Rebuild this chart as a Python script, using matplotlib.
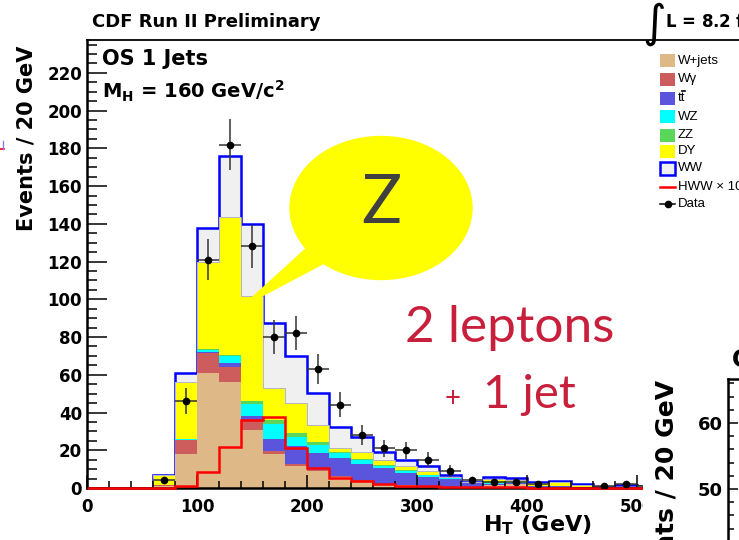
import numpy as np
import matplotlib
matplotlib.use('Agg')
from matplotlib import pyplot as plt
from matplotlib.patches import Rectangle, Ellipse, Polygon
from matplotlib.lines import Line2D
from matplotlib.ticker import MultipleLocator

# H_T en bins de 20 GeV (0-600)
bordes = np.arange(0, 620, 20)
wjets = [0, 0, 0, 1.0, 17.8, 61.1, 56.2, 30.7, 17.8, 11.7, 8.8, 6.0, 3.7, 2.1, 1.5, 0.5, 0.3, 0.3, 1.5, 2.0, 0.3, 0.3, 0.1, 0, 0, 0, 0, 0, 0, 0]
wgamma = [0, 0, 0, 0.6, 7.6, 10.3, 8.1, 5.3, 1.8, 0.8, 0.5, 0.3, 0.3, 0.2, 0.1, 0.1, 0, 0, 0, 0, 0, 0, 0, 0, 0, 0, 0, 0, 0, 0]
ttbar = [0, 0, 0, 0, 0.2, 0.6, 1.8, 2.2, 6.5, 9.8, 9.4, 9.4, 8.5, 8.1, 6.5, 5.4, 4.3, 2.2, 0.5, 0.5, 0.6, 0.5, 0.5, 0.3, 0.8, 0.6, 0.4, 0.3, 0.2, 0.2]
wz = [0, 0, 0, 0, 0.2, 1.1, 3.9, 6.3, 7.8, 4.9, 4.3, 2.8, 2.3, 1.3, 1.1, 0.9, 0.7, 0.3, 0.9, 0.5, 0.2, 0.2, 0.1, 0, 0, 0, 0, 0, 0, 0]
zz = [0, 0, 0, 0, 0.2, 0.3, 0.7, 1.6, 2.1, 1.8, 1.5, 0.8, 0.5, 0.3, 0.2, 0.1, 0.1, 0.1, 0.1, 0.1, 0.1, 0.1, 0, 0, 0, 0, 0, 0, 0, 0]
dy = [0, 0, 0, 5.4, 30.3, 46.5, 73.1, 55.6, 16.8, 15.9, 8.9, 2.1, 4.0, 2.8, 2.3, 2.2, 0.6, 0.1, 1.8, 1.1, 1.3, 2.3, 0.8, 0.1, 0.1, 0.3, 0.2, 0.1, 0.1, 0]
ww = [0, 0, 0, 0, 4.8, 18.1, 32.2, 38.3, 34.8, 25.1, 16.8, 11.1, 7.6, 4.5, 3.1, 2.5, 0.9, 0.4, 0.8, 0.9, 0.5, 0.3, 0.4, 0.3, 0.9, 0.4, 0.3, 0.2, 0.2, 0.1]
hww10 = [0, 0, 0, 0, 1.2, 8.7, 21.9, 36.0, 37.8, 21.0, 10.8, 5.1, 3.5, 2.1, 1.1, 1.0, 0.6, 0.4, 0.3, 0.3, 0.2, 0.2, 0.2, 0.1, 0.1, 0.1, 0.1, 0.1, 0, 0]
datos = [0, 0, 0, 4, 46, 121, 182, 128, 80, 82, 63, 44, 28, 21, 20, 15, 9, 4, 3, 3, 2, 0, 0, 1, 2, 1, 0, 0, 0, 0]

nombres = ['W+jets', 'W\u03b3', 'tt', 'WZ', 'ZZ', 'DY', 'WW']
colores = ['#deb887', '#cd5c5c', '#5b55dd', '#00ffff', '#5ad65a', '#ffff00', '#f0f0f0']

W, H = 739, 540
plt.rcParams['font.family'] = 'DejaVu Sans'
plt.rcParams['font.weight'] = 'bold'

def px(x, y):
    return (x / W, 1 - y / H)

fig = plt.figure(figsize=(W / 100, H / 100), dpi=100)
ax = fig.add_axes([87 / W, 52 / H, 680 / W, 448 / H])

# pila acumulada, se dibuja de arriba hacia abajo
capas = [wjets, wgamma, ttbar, wz, zz, dy, ww]
acum = np.cumsum(np.array(capas), axis=0)
for i in range(len(capas) - 1, -1, -1):
    ax.stairs(acum[i], bordes, fill=True, color=colores[i], lw=0)
    if i == len(capas) - 1:
        ax.stairs(acum[i], bordes, color='#0000ff', lw=1.8)
    if i == 5:
        # contorno fino del DY
        ax.stairs(acum[i], bordes, color='#a8a8e8', lw=0.6)

ax.stairs(hww10, bordes, color='#ff0000', lw=1.8, baseline=None, zorder=3, clip_on=False)

d = np.array(datos, dtype=float)
centros = (bordes[:-1] + bordes[1:]) / 2
m = d > 0
ax.errorbar(centros[m], d[m], yerr=np.sqrt(d[m]), xerr=10, fmt='o', color='black',
            ecolor='#333333', elinewidth=1.1, markersize=4.5, capsize=0, zorder=4)

ax.set_xlim(0, 680 / 1.1)
ax.set_ylim(0, 448 / 1.887)
ax.spines['right'].set_visible(False)
ax.spines['top'].set_linewidth(1.3)
ax.spines['left'].set_linewidth(1.8)
ax.spines['bottom'].set_linewidth(1.8)
ax.set_xticks(range(0, 600, 100))
ax.xaxis.set_minor_locator(MultipleLocator(20))
ax.set_yticks(range(0, 240, 20))
ax.yaxis.set_minor_locator(MultipleLocator(5))
ax.tick_params(axis='x', which='major', direction='in', length=9.4, width=1.1, pad=7, labelsize=12)
ax.tick_params(axis='x', which='minor', direction='in', length=5, width=1.1)
ax.tick_params(axis='y', which='major', direction='in', length=14.4, width=1.1, pad=3.6, labelsize=12)
ax.tick_params(axis='y', which='minor', direction='in', length=7.2, width=1.1)

# textos
fig.text(*px(92, 27), 'CDF Run II Preliminary', fontsize=13, va='baseline')
fig.text(*px(642, 37), r'$\int$', fontsize=23, va='baseline')
fig.text(*px(665, 28), r'L = 8.2 fb$^{\mathbf{-1}}$', fontsize=12, va='baseline')
fig.text(*px(27, 138), 'Events / 20 GeV', fontsize=15, rotation=90, ha='center', va='center')
fig.text(*px(592, 531), r'$\mathbf{H_{T}}$ (GeV)', fontsize=16, ha='right', va='baseline')
fig.text(*px(102, 65), 'OS 1 Jets', fontsize=15, va='baseline')
fig.text(*px(102, 99), r'$\mathbf{M_{H}}$ = 160 GeV/c$^{\mathbf{2}}$', fontsize=14, va='baseline')

# leyenda
ly = [60.7, 79.3, 98.3, 116.7, 135, 151.5, 168.3, 186.7, 204]
for i in range(7):
    ec = '#0000ff' if i == 6 else colores[i]
    lw = 1.8 if i == 6 else 0
    fig.add_artist(Rectangle(px(660, ly[i] + 6.5), 15 / W, 13 / H, transform=fig.transFigure,
                             facecolor=colores[i], edgecolor=ec, lw=lw))
    fig.text(*px(678, ly[i]), nombres[i], fontsize=9.5, fontweight='normal',
             family='Liberation Sans', va='center')
# barra de la t
fig.add_artist(Line2D([682 / W, 685 / W], [1 - (ly[2] - 7.5) / H] * 2, color='black', lw=1.2,
                      transform=fig.transFigure))
fig.add_artist(Line2D([660 / W, 675 / W], [1 - ly[7] / H] * 2, color='#ff0000', lw=1.8,
                      transform=fig.transFigure))
fig.text(*px(678, ly[7]), 'HWW \u00d7 10', fontsize=9.5, fontweight='normal',
         family='Liberation Sans', va='center')
fig.add_artist(Line2D([660 / W, 675 / W], [1 - ly[8] / H] * 2, color='black', lw=1.1,
                      transform=fig.transFigure))
fig.add_artist(Line2D([667.5 / W], [1 - ly[8] / H], color='black', marker='o', markersize=4.5,
                      transform=fig.transFigure))
fig.text(*px(678, ly[8]), 'Data', fontsize=9.5, fontweight='normal',
         family='Liberation Sans', va='center')

# globo "Z"
fig.add_artist(Ellipse(px(381, 208), 182 / W, 143 / H, transform=fig.transFigure,
                       color='#ffff00', zorder=3))
fig.add_artist(Polygon([px(243, 306), px(320, 236), px(345, 252)], closed=True,
                       transform=fig.transFigure, color='#ffff00', zorder=3))
fig.text(*px(381, 204), 'Z', fontsize=48, fontweight='normal', family='Lato',
         color='#404040', ha='center', va='center', zorder=4)
fig.text(*px(405, 342), '2 leptons', fontsize=37, fontweight='normal', family='Lato',
         color='#c8203c', va='baseline', zorder=4)
fig.text(*px(453, 399), '+', fontsize=20, fontweight='normal', family='Lato',
         color='#c8203c', ha='center', va='center', zorder=4)
fig.text(*px(483, 408), '1 jet', fontsize=34, fontweight='normal', family='Lato',
         color='#c8203c', va='baseline', zorder=4)

# restos de otra figura (bordes de la diapositiva)
fig.add_artist(Line2D([0, 4 / W], [1 - 149 / H] * 2, color='#ff0000', lw=1.2, transform=fig.transFigure))
fig.add_artist(Line2D([3 / W] * 2, [1 - 141 / H, 1 - 149 / H], color='#8080ff', lw=1.0, transform=fig.transFigure))

tapa = fig.add_axes([643 / W, 0, (W - 643) / W, 200 / H], zorder=5)
tapa.set_facecolor('white')
tapa.set_xticks([])
tapa.set_yticks([])
for s in tapa.spines.values():
    s.set_visible(False)

ax2 = fig.add_axes([728 / W, 0, 100 / W, 161 / H], zorder=6)
ax2.set_ylim(50 - 51 / 6.6, 60 + 44 / 6.6)
ax2.set_xticks([])
ax2.set_yticks([50, 60])
ax2.yaxis.set_minor_locator(MultipleLocator(2))
ax2.spines['right'].set_visible(False)
ax2.spines['bottom'].set_visible(False)
ax2.spines['left'].set_linewidth(1.8)
ax2.spines['top'].set_linewidth(1.8)
ax2.tick_params(axis='y', which='major', direction='in', length=7.2, width=1.1, pad=3.6, labelsize=13)
ax2.tick_params(axis='y', which='minor', direction='in', length=4.3, width=1.1)
fig.text(*px(667, 380), 'Events / 20 GeV', fontsize=18, rotation=90, ha='center', va='top', zorder=7)
fig.text(*px(732, 367), 'CDF Run II Preliminary', fontsize=17, va='baseline', zorder=7)

fig.savefig('out.png', dpi=100)
